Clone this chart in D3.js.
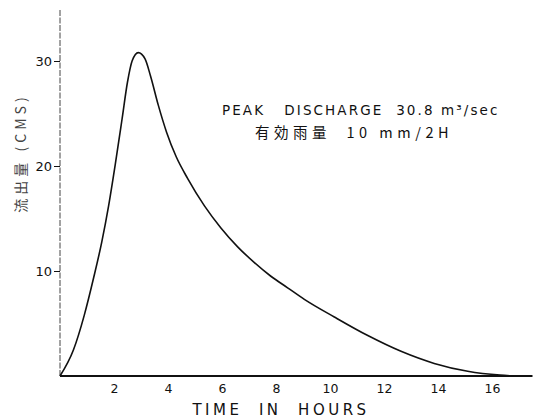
<!DOCTYPE html>
<html><head><meta charset="utf-8">
<script src="https://cdn.jsdelivr.net/npm/d3@7"></script>
<style>body{margin:0;background:#fff}svg{display:block}</style>
</head><body>
<script>
const hours =     [0, 0.5, 0.9, 1.25, 1.55, 1.8, 2.05, 2.3, 2.5, 2.67, 2.9, 3.15, 3.35, 3.64, 3.95, 4.3, 4.73, 5.35, 5.96, 6.58, 7.2, 7.81, 8.43, 9.05, 10.16, 11.4, 12.63, 13.86, 15.1, 16.3, 16.8];
const discharge = [0, 2.5, 5.8, 9.4, 12.8, 16.2, 20.2, 24.5, 28.0, 30.0, 30.8, 30.2, 28.6, 25.8, 23.2, 20.9, 18.8, 16.2, 14.1, 12.3, 10.8, 9.5, 8.4, 7.3, 5.62, 3.85, 2.35, 1.2, 0.45, 0.08, 0];
const xTicks = [2, 4, 6, 8, 10, 12, 14, 16];
const yTicks = [10, 20, 30];
const xTitle = "TIME  IN  HOURS";
const yTitle = "流出量 (CMS)";
const note1 = "PEAK   DISCHARGE  30.8 m³/sec";
const note2 = "有効雨量  10 mm/2H";

const W = 539, H = 419;
const svg = d3.select("body").append("svg").attr("width", W).attr("height", H);
const x = d3.scaleLinear().domain([0, 16]).range([60, 492]);
const y = d3.scaleLinear().domain([0, 30]).range([376, 61]);
const ink = "#111";

// y axis
const yAxis = svg.append("g").attr("transform", `translate(${x(0)},0)`)
  .call(d3.axisLeft(y).tickValues(yTicks).tickSize(6).tickPadding(2));
yAxis.select(".domain").remove();
yAxis.selectAll(".tick line").attr("stroke", ink).attr("stroke-width", 1);
yAxis.selectAll(".tick text").attr("fill", ink).style("font-family", "DejaVu Sans, sans-serif").style("font-size", "13px");
svg.append("line").attr("x1", x(0)).attr("x2", x(0)).attr("y1", 10).attr("y2", y(0))
  .attr("stroke", "#444").attr("stroke-width", 1).attr("stroke-dasharray", "6,1.5");

// x axis
const xAxis = svg.append("g").attr("transform", `translate(0,${y(0)})`)
  .call(d3.axisBottom(x).tickValues(xTicks).tickSize(0).tickPadding(8));
xAxis.select(".domain").remove();
xAxis.selectAll(".tick text").attr("fill", ink).style("font-family", "DejaVu Sans, sans-serif").style("font-size", "12.5px");
svg.append("line").attr("x1", x(0)).attr("x2", x(17.5)).attr("y1", y(0)).attr("y2", y(0))
  .attr("stroke", ink).attr("stroke-width", 2);

// curve
const pts = hours.map((h, i) => [h, discharge[i]]);
svg.append("path").datum(pts)
  .attr("d", d3.line().x(d => x(d[0])).y(d => y(d[1])).curve(d3.curveMonotoneX))
  .attr("fill", "none").attr("stroke", ink).attr("stroke-width", 1.6);

// titles
svg.append("text").attr("x", 281).attr("y", 415).attr("text-anchor", "middle")
  .attr("fill", ink).style("font-family", "DejaVu Sans, sans-serif").style("font-size", "15px")
  .style("letter-spacing", "3.5px").attr("xml:space", "preserve").text(xTitle);
svg.append("text").attr("transform", "translate(26,153) rotate(-90)").attr("text-anchor", "middle")
  .attr("fill", "#444").style("font-family", "Noto Sans CJK JP, sans-serif").style("font-size", "14px")
  .style("letter-spacing", "4px").text(yTitle);

// annotations
svg.append("text").attr("x", 222).attr("y", 115).attr("fill", ink)
  .style("font-family", "DejaVu Sans, sans-serif").style("font-size", "13.5px")
  .style("letter-spacing", "2.1px").attr("xml:space", "preserve").text(note1);
svg.append("text").attr("x", 255).attr("y", 138).attr("fill", ink)
  .style("font-family", "Noto Sans CJK JP, sans-serif").style("font-size", "14.5px")
  .style("letter-spacing", "4.5px").attr("xml:space", "preserve").text(note2);
</script>
</body></html>
